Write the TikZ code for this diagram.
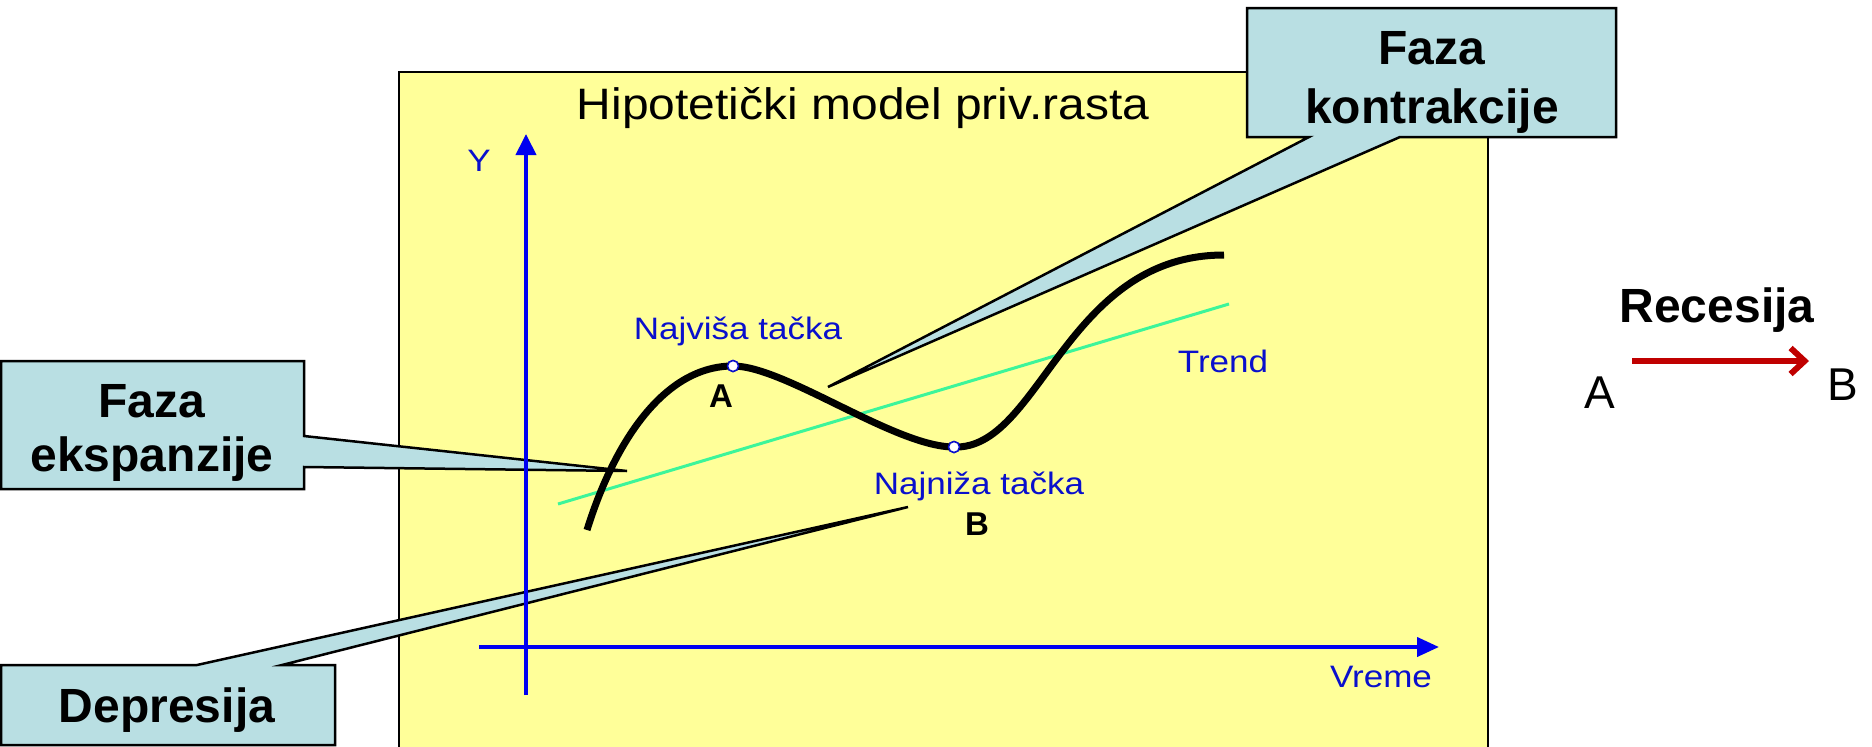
\documentclass[tikz,border=0pt]{standalone}
\usepackage{fontspec}
\setmainfont{Liberation Sans}
\usetikzlibrary{arrows.meta}
\definecolor{paper}{HTML}{FFFF99}
\definecolor{callfill}{HTML}{B9DFE3}
\definecolor{axisblue}{HTML}{0000F0}
\definecolor{lblblue}{HTML}{0A10CC}
\definecolor{trendgreen}{HTML}{3CF59A}
\definecolor{recred}{HTML}{C00000}
\newcommand\widen[1]{\scalebox{1.13}[1]{#1}}
\tikzset{
  callout/.style={fill=callfill, draw=black, line width=2.5pt},
  bigbold/.style={font=\fontsize{48}{54}\selectfont\bfseries, inner sep=0pt, anchor=base},
  bluelbl/.style={font=\fontsize{31}{36}\selectfont, text=lblblue, inner sep=0pt, anchor=base},
  axisline/.style={draw=axisblue, line width=4pt},
  ptmark/.style={circle, draw=lblblue, fill=white, line width=1.5pt, minimum size=11pt, inner sep=0pt},
}
\begin{document}
\begin{tikzpicture}[x=1pt,y=-1pt]
\useasboundingbox (0,0) rectangle (1872,747);
\clip (0,0) rectangle (1872,747);
\fill[white] (0,0) rectangle (1872,747);
% yellow panel
\draw[fill=paper, line width=2pt] (399,72) rectangle (1488,775);
% callouts
\coordinate (ekTip) at (627,471);
\draw[callout] (1,361) -- (304,361) -- (304,436) -- (ekTip) -- (304,467) -- (304,489) -- (1,489) -- cycle;
\coordinate (koTip) at (828,387);
\draw[callout] (1247,8) -- (1616,8) -- (1616,137) -- (1400,137) -- (koTip) -- (1309,137) -- (1247,137) -- cycle;
\coordinate (deTip) at (908,507);
\draw[callout] (1,665) -- (197,665) -- (deTip) -- (282,665) -- (335,665) -- (335,745) -- (1,745) -- cycle;
\node[bigbold] (ek1) at (152,417) {Faza};
\node[bigbold] (ek2) at (152,471) {ekspanzije};
\node[bigbold] (ko1) at (1432,64) {Faza};
\node[bigbold] (ko2) at (1432,123) {kontrakcije};
\node[bigbold] (de1) at (167,722) {Depresija};
% title
\node[font=\fontsize{44}{50}\selectfont, inner sep=0pt, anchor=base] (title) at (863,119) {\scalebox{1.09}[1]{Hipotetički model priv.rasta}};
% axes
\coordinate (yBot) at (526,695);
\coordinate (yTop) at (526,134);
\coordinate (xLeft) at (479,647);
\coordinate (xRight) at (1439,647);
\draw[axisline, -{Triangle[length=21pt,width=20pt]}] (yBot) -- (yTop);
\draw[axisline, -{Triangle[length=22pt,width=19pt]}] (xLeft) -- (xRight);
\node[bluelbl] (ylab) at (479,171) {\widen{Y}};
\node[bluelbl] (xlab) at (1381,687) {\widen{Vreme}};
% trend
\coordinate (tr1) at (558,504);
\coordinate (tr2) at (1229,304);
\draw[trendgreen, line width=3pt] (tr1) -- (tr2);
\node[bluelbl] (trlab) at (1223,372) {\widen{Trend}};
% curve
\coordinate (c0) at (587,530);
\coordinate (c3) at (1224,255);
\node[ptmark] (ptA) at (733,366) {};
\node[ptmark] (ptB) at (954,447) {};
\draw[line width=7pt] (c0) .. controls (615,440) and (665,366) .. (ptA.center)
  .. controls (785,366) and (895,447) .. (ptB.center)
  .. controls (1040,450) and (1065,255) .. (c3);
\node[ptmark] at (ptA) {};
\node[ptmark] at (ptB) {};
\node[bluelbl] (hiLab) at (738,339) {\widen{Najviša tačka}};
\node[bluelbl] (loLab) at (979,494) {\widen{Najniža tačka}};
\node[font=\fontsize{33}{38}\selectfont\bfseries, inner sep=0pt, anchor=base] (labA) at (721,407) {A};
\node[font=\fontsize{33}{38}\selectfont\bfseries, inner sep=0pt, anchor=base] (labB) at (977,535) {B};
% recession
\node[bigbold] (rec) at (1717,322) {Recesija};
\node[font=\fontsize{46}{52}\selectfont, inner sep=0pt, anchor=base] (rA) at (1600,408) {A};
\node[font=\fontsize{46}{52}\selectfont, inner sep=0pt, anchor=base] (rB) at (1843,400) {B};
\coordinate (arS) at (1632,361);
\coordinate (arE) at (1809,361);
\draw[recred, line width=6pt, -{Straight Barb[length=14pt,width=26pt]}] (arS) -- (arE);
\end{tikzpicture}
\end{document}
